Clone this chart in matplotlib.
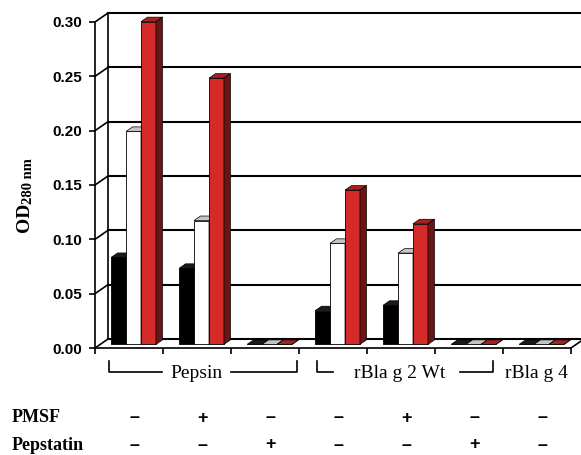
import numpy as np
import matplotlib.pyplot as plt
from matplotlib.patches import Polygon

# Dados (OD 280 nm)
grupos = ["Pepsin", "Pepsin", "Pepsin", "rBla g 2 Wt", "rBla g 2 Wt", "rBla g 2 Wt", "rBla g 4"]
serie_preta = [0.080, 0.070, 0.0, 0.031, 0.036, 0.0, 0.0]
serie_branca = [0.196, 0.114, 0.0, 0.093, 0.084, 0.0, 0.0]
serie_vermelha = [0.297, 0.245, 0.0, 0.142, 0.111, 0.0, 0.0]
pmsf = ["–", "+", "–", "–", "+", "–", "–"]
pepstatin = ["–", "–", "+", "–", "–", "+", "–"]
yticks = [0.00, 0.05, 0.10, 0.15, 0.20, 0.25, 0.30]

# Escala em pixels (para montar a perspectiva)
W, H = 581, 455
PX_X = 68.0          # pixels por categoria
PX_Y = 1086.7        # pixels por unidade de OD
X0_PX, Y0_PX = 95, 348
DX = 13 / PX_X       # profundidade do "piso"
DY = 9 / PX_Y
F0, F1 = 0.4, 0.9    # posição das barras na profundidade
LARG = 0.22
OFFS = [0.16, 0.38, 0.60]

sans = "Liberation Sans"
serif = "Liberation Serif"

fig = plt.figure(figsize=(W / 100, H / 100), dpi=100)
xmax = (W - X0_PX) / PX_X
ytop = 0.312
ax = fig.add_axes([X0_PX / W, (H - Y0_PX) / H, (W - X0_PX) / W, ytop * PX_Y / H])
ax.set_xlim(0, xmax)
ax.set_ylim(0, ytop)

for s in ["top", "right"]:
    ax.spines[s].set_visible(False)
ax.spines["left"].set_bounds(0, 0.30)
ax.spines["bottom"].set_bounds(0, 7)
ax.spines["left"].set_linewidth(1.2)
ax.spines["bottom"].set_linewidth(1.2)
ax.set_yticks(yticks)
ax.set_yticklabels([f"{v:.2f}" for v in yticks], fontfamily=sans, fontweight="bold", fontsize=11)
ax.set_xticks(range(8))
ax.set_xticklabels([])
ax.tick_params(axis="both", direction="out", length=4, width=1.2, pad=5)

# parede do fundo e parede lateral
for v in yticks:
    ax.plot([DX, xmax + 1], [v + DY, v + DY], color="black", lw=1.5, zorder=1, clip_on=True)
    ax.plot([0, DX], [v, v + DY], color="black", lw=1.2, zorder=1)
ax.plot([DX, DX], [DY, 0.30 + DY], color="black", lw=1.2, zorder=1)
ax.plot([7, 7 + DX], [0, DY], color="black", lw=1.2, zorder=1)

cores_frente = ["#000000", "#ffffff", "#d42a2a"]
cores_topo = ["#1a1a1a", "#c4c4c4", "#a82020"]
cores_lado = ["#000000", "#9a9a9a", "#6a1414"]
series = [serie_preta, serie_branca, serie_vermelha]

z = 3
d = F1 - F0
base = F0 * DY
for i in range(len(grupos)):
    for k in range(3):
        h = series[k][i]
        xf = i + OFFS[k] + F0 * DX
        ax.bar(xf, h, LARG, bottom=base, align="edge", color=cores_frente[k],
               edgecolor="black", linewidth=0.6, zorder=z)
        topo = [(xf, base + h), (xf + LARG, base + h),
                (xf + LARG + d * DX, base + h + d * DY), (xf + d * DX, base + h + d * DY)]
        lado = [(xf + LARG, base), (xf + LARG, base + h),
                (xf + LARG + d * DX, base + h + d * DY), (xf + LARG + d * DX, base + d * DY)]
        ax.add_patch(Polygon(topo, closed=True, facecolor=cores_topo[k], edgecolor="black",
                             linewidth=0.5, zorder=z))
        ax.add_patch(Polygon(lado, closed=True, facecolor=cores_lado[k], edgecolor="black",
                             linewidth=0.5, zorder=z))
        z += 1

# chaves com os nomes das proteínas
def py(px):
    return (Y0_PX - px) / PX_Y

def pxx(px):
    return (px - X0_PX) / PX_X

y_linha = py(372)
y_tick = py(361)
chaves = [(109, 162, 231, 297), (317, 333, 460, 493)]
for a, b, c, e in chaves:
    ax.plot([pxx(a), pxx(a), pxx(b)], [y_tick, y_linha, y_linha], color="black", lw=1.2, clip_on=False)
    ax.plot([pxx(c), pxx(e), pxx(e)], [y_linha, y_linha, y_tick], color="black", lw=1.2, clip_on=False)
for nome, xc in [("Pepsin", 196), ("rBla g 2 Wt", 400), ("rBla g 4", 536)]:
    ax.text(pxx(xc), py(373), nome, ha="center", va="center", fontfamily=serif,
            fontsize=14, clip_on=False)

# linhas PMSF / Pepstatin
ax.text(pxx(12), py(418), "PMSF", ha="left", va="center", fontfamily=serif,
        fontweight="bold", fontsize=13, clip_on=False)
ax.text(pxx(12), py(445), "Pepstatin", ha="left", va="center", fontfamily=serif,
        fontweight="bold", fontsize=13, clip_on=False)
for i in range(len(grupos)):
    ax.text(i + 0.58, py(418), pmsf[i], ha="center", va="center", fontfamily=sans,
            fontweight="bold", fontsize=13, clip_on=False)
    ax.text(i + 0.58, py(445), pepstatin[i], ha="center", va="center", fontfamily=sans,
            fontweight="bold", fontsize=13, clip_on=False)

# rótulo do eixo y
fig.text(24 / W, (H - 217) / H, "OD", rotation=90, ha="center", va="center",
         fontfamily=serif, fontweight="bold", fontsize=14)
fig.text(28 / W, (H - 181) / H, "280 nm", rotation=90, ha="center", va="center",
         fontfamily=serif, fontweight="bold", fontsize=10.5)

fig.savefig("out.png", dpi=100)
